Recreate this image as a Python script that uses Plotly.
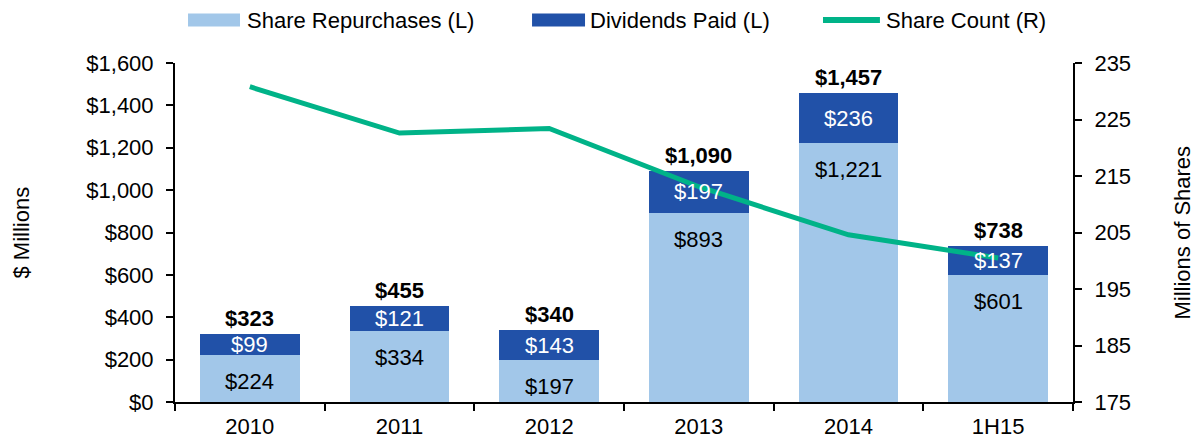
import plotly.graph_objects as go

# data
categories = ['2010', '2011', '2012', '2013', '2014', '1H15']
repurchases = [224, 334, 197, 893, 1221, 601]
dividends = [99, 121, 143, 197, 236, 137]
share_count = [230.8, 222.6, 223.4, 213.1, 204.6, 200.5]
totals = [r + d for r, d in zip(repurchases, dividends)]

LIGHT = '#A2C7E9'
DARK = '#2151A8'
GREEN = '#00B388'
FONT = 'Liberation Sans, Arial, sans-serif'
FS = 22

fig = go.Figure()

fig.add_trace(go.Bar(
    x=categories, y=repurchases, name='Share Repurchases (L)',
    marker=dict(color=LIGHT, line=dict(width=0)),
    showlegend=False, hoverinfo='skip'
))
fig.add_trace(go.Bar(
    x=categories, y=dividends, name='Dividends Paid (L)',
    marker=dict(color=DARK, line=dict(width=0)),
    showlegend=False, hoverinfo='skip'
))
fig.add_trace(go.Scatter(
    x=categories, y=share_count, name='Share Count (R)', yaxis='y2',
    mode='lines', line=dict(color=GREEN, width=5),
    showlegend=False
))

# bar labels (x given as category index so "2010" is not read as a number)
annotations = []
for i, (rep, div, tot) in enumerate(zip(repurchases, dividends, totals)):
    annotations.append(dict(
        x=i, y=rep, xref='x', yref='y', yanchor='top', yshift=-12,
        text=f"${rep:,}", showarrow=False,
        font=dict(size=FS, color='black', family=FONT)
    ))
    annotations.append(dict(
        x=i, y=rep + div / 2, xref='x', yref='y', yanchor='middle',
        text=f"${div:,}", showarrow=False,
        font=dict(size=FS, color='white', family=FONT)
    ))
    annotations.append(dict(
        x=i, y=tot, xref='x', yref='y', yanchor='bottom', yshift=1,
        text=f"<b>${tot:,}</b>", showarrow=False,
        font=dict(size=FS, color='black', family=FONT)
    ))

# axis titles
annotations.append(dict(
    x=-0.1704, y=0.5, xref='paper', yref='paper', textangle=-90,
    xanchor='center', yanchor='middle',
    text='$ Millions', showarrow=False,
    font=dict(size=FS, color='black', family=FONT)
))
annotations.append(dict(
    x=1.1214, y=0.5, xref='paper', yref='paper', textangle=-90,
    xanchor='center', yanchor='middle',
    text='Millions of Shares', showarrow=False,
    font=dict(size=FS, color='black', family=FONT)
))

# legend drawn by hand (wide swatches)
legend_items = [
    ('Share Repurchases (L)', LIGHT, 'rect', 0.0145, 0.0724, 0.0775),
    ('Dividends Paid (L)', DARK, 'rect', 0.3976, 0.4566, 0.4599),
    ('Share Count (R)', GREEN, 'line', 0.7216, 0.785, 0.7895),
]
shapes = []
ly = 1.1268
for label, color, kind, x0, x1, tx in legend_items:
    if kind == 'rect':
        shapes.append(dict(type='rect', xref='paper', yref='paper',
                           x0=x0, x1=x1, y0=ly - 0.019, y1=ly + 0.019,
                           fillcolor=color, line=dict(width=0)))
    else:
        shapes.append(dict(type='line', xref='paper', yref='paper',
                           x0=x0, x1=x1, y0=ly, y1=ly,
                           line=dict(color=color, width=6)))
    annotations.append(dict(
        x=tx, y=ly, xref='paper', yref='paper', xanchor='left', yanchor='middle',
        text=label, showarrow=False,
        font=dict(size=FS, color='black', family=FONT)
    ))

fig.update_layout(
    barmode='stack',
    bargap=0.333,
    width=1194, height=440,
    margin=dict(l=175, r=121, t=63, b=38, autoexpand=False),
    paper_bgcolor='white',
    plot_bgcolor='white',
    font=dict(family=FONT, size=FS, color='black'),
    separators='.,',
    xaxis=dict(
        type='category', tickangle=0, range=[-0.5, 5.5],
        showline=True, linecolor='black', linewidth=2,
        ticks='outside', tickson='boundaries', ticklen=7, tickwidth=2, tickcolor='black',
        ticklabelstandoff=4,
        showgrid=False, zeroline=False,
        tickfont=dict(size=FS)
    ),
    yaxis=dict(
        range=[0, 1600], dtick=200, tickprefix='$', tickformat=',d',
        showline=True, linecolor='black', linewidth=2,
        ticks='outside', ticklen=7, tickwidth=2, tickcolor='black',
        ticklabelstandoff=8,
        showgrid=False, zeroline=False,
        tickfont=dict(size=FS)
    ),
    yaxis2=dict(
        range=[175, 235], tick0=175, dtick=10, overlaying='y', side='right',
        showline=True, linecolor='black', linewidth=2,
        ticks='outside', ticklen=7, tickwidth=2, tickcolor='black',
        ticklabelstandoff=8,
        showgrid=False, zeroline=False,
        tickfont=dict(size=FS)
    ),
    annotations=annotations,
    shapes=shapes,
    showlegend=False
)

fig.write_html("out.html", config={'displayModeBar': False},
               post_script="document.body.style.margin = '0';")
